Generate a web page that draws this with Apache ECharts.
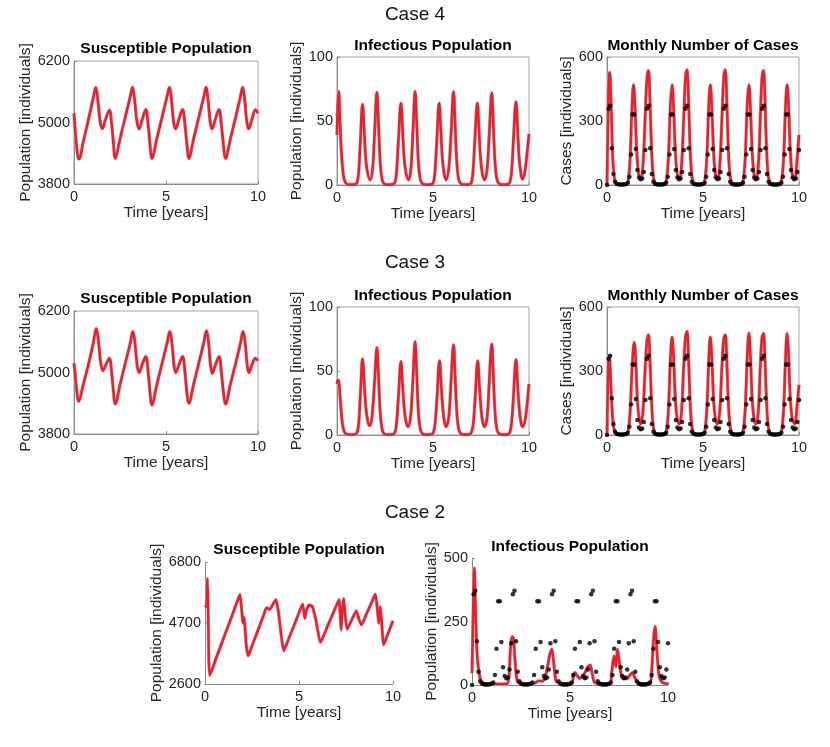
<!DOCTYPE html>
<html><head><meta charset="utf-8">
<script src="https://cdn.jsdelivr.net/npm/echarts@6.0.0/dist/echarts.min.js"></script>
<style>html,body{margin:0;padding:0;background:#fff}#c{width:830px;height:747px}</style>
</head><body><div id="c"></div>
<script>
// ---------- DATA ----------
const caseLabels = ['Case 4', 'Case 3', 'Case 2'];
const titleS = 'Susceptible Population';
const titleI = 'Infectious Population';
const titleC = 'Monthly Number of Cases';
const xTicks = [0, 5, 10];
const yTicksS43 = [3800, 5000, 6200];
const yTicksI43 = [0, 50, 100];
const yTicksC43 = [0, 300, 600];
const yTicksS2 = [2600, 4700, 6800];
const yTicksI2 = [0, 250, 500];

// monthly reported cases (month 0..120)
const monthlyCases = [0,
 357,371,172,52,15,6,3,2,2,2,3,5,10,39,143,330,330,169,70,35,27,30,61,164,
 357,371,172,52,15,6,3,2,2,2,3,5,10,39,143,330,330,169,70,35,27,30,61,164,
 357,371,172,52,15,6,3,2,2,2,3,5,10,39,143,330,330,169,70,35,27,30,61,164,
 357,371,172,52,15,6,3,2,2,2,3,5,10,39,143,330,330,169,70,35,27,30,61,164,
 357,371,172,52,15,6,3,2,2,2,3,5,10,39,143,330,330,169,70,35,27,30,61,164];

const c4S = [[0,5180],[0.1,4700],[0.2,4360],[0.27,4290],[0.5,4620],[0.8,5080],[1.05,5490],[1.18,5680],[1.3,5420],[1.42,5020],[1.54,4880],[1.7,5050],[1.92,5240],[2.05,4950],[2.15,4570],[2.24,4300],[2.5,4680],[2.8,5125],[3.05,5495],[3.18,5685],[3.3,5420],[3.42,5020],[3.54,4875],[3.7,5050],[3.9,5255],[4.03,4950],[4.13,4570],[4.23,4300],[4.5,4680],[4.8,5125],[5.05,5495],[5.19,5685],[5.3,5430],[5.41,5020],[5.52,4875],[5.7,5060],[5.9,5255],[6.03,4950],[6.14,4570],[6.24,4300],[6.5,4680],[6.8,5125],[7.05,5495],[7.18,5685],[7.29,5430],[7.4,5020],[7.5,4875],[7.68,5060],[7.88,5255],[8.01,4950],[8.12,4570],[8.23,4300],[8.5,4680],[8.8,5125],[9.04,5495],[9.17,5685],[9.28,5430],[9.39,5020],[9.49,4875],[9.67,5060],[9.86,5250],[10,5180]];
const c4I = [[0,39],[0.04,62],[0.09,73],[0.15,52],[0.22,28],[0.3,12],[0.38,4],[0.5,1],[0.7,0.3],[0.95,0.5],[1.05,2],[1.13,10],[1.22,35],[1.33,63],[1.42,42],[1.5,20],[1.6,9],[1.73,4],[1.85,12],[1.95,38],[2.08,72.5],[2.16,48],[2.25,18],[2.34,5],[2.45,1],[2.65,0.3],[2.9,0.5],[3.02,2],[3.1,10],[3.2,35],[3.33,64],[3.42,42],[3.5,20],[3.6,9],[3.73,4],[3.85,13],[3.95,40],[4.07,73],[4.15,48],[4.24,18],[4.33,5],[4.45,1],[4.65,0.3],[4.9,0.5],[5.02,2],[5.1,10],[5.2,35],[5.32,64],[5.41,42],[5.49,20],[5.58,9],[5.68,4],[5.82,13],[5.94,40],[6.07,73],[6.15,48],[6.24,18],[6.33,5],[6.45,1],[6.65,0.3],[6.9,0.5],[7.0,2],[7.08,10],[7.18,35],[7.31,64],[7.4,42],[7.48,20],[7.57,9],[7.69,4],[7.82,13],[7.93,40],[8.06,72],[8.14,48],[8.23,18],[8.32,5],[8.44,1],[8.65,0.3],[8.9,0.5],[9.0,2],[9.09,10],[9.19,35],[9.32,65],[9.41,42],[9.49,20],[9.57,10],[9.65,4.5],[9.78,10],[9.9,25],[10,40]];
const c4C = [[0,0],[0.05,300],[0.1,500],[0.14,528],[0.2,420],[0.26,230],[0.33,80],[0.42,18],[0.55,3],[0.8,0.5],[1.0,2],[1.1,20],[1.2,120],[1.3,360],[1.38,470],[1.46,360],[1.55,160],[1.65,50],[1.76,28],[1.87,90],[1.98,300],[2.08,500],[2.16,537],[2.23,420],[2.3,220],[2.38,70],[2.48,12],[2.6,2],[2.85,0.5],[3.0,3],[3.1,25],[3.2,130],[3.3,370],[3.39,470],[3.47,360],[3.56,160],[3.66,50],[3.77,28],[3.88,90],[3.99,300],[4.09,505],[4.17,540],[4.24,420],[4.31,220],[4.39,70],[4.49,12],[4.62,2],[4.85,0.5],[5.0,3],[5.1,25],[5.2,130],[5.3,370],[5.38,470],[5.46,360],[5.55,160],[5.65,50],[5.76,28],[5.87,90],[5.98,300],[6.08,505],[6.16,540],[6.23,420],[6.3,220],[6.38,70],[6.48,12],[6.6,2],[6.85,0.5],[7.0,3],[7.1,25],[7.2,130],[7.3,370],[7.39,470],[7.47,360],[7.56,160],[7.66,50],[7.77,28],[7.88,90],[7.98,300],[8.07,500],[8.15,537],[8.22,420],[8.29,220],[8.37,70],[8.47,12],[8.6,2],[8.85,0.5],[9.0,3],[9.1,25],[9.2,130],[9.3,370],[9.38,470],[9.46,360],[9.55,160],[9.65,50],[9.78,28],[9.88,100],[10,235]];

const c3S = [[0,5180],[0.08,4900],[0.15,4640],[0.25,4440],[0.5,4760],[0.8,5180],[1.05,5580],[1.21,5860],[1.33,5600],[1.45,5200],[1.57,5036],[1.73,5150],[1.92,5276],[2.05,4980],[2.15,4600],[2.24,4385],[2.5,4760],[2.8,5200],[3.05,5560],[3.2,5797],[3.32,5550],[3.43,5150],[3.54,4997],[3.7,5150],[3.9,5309],[4.03,5000],[4.13,4620],[4.23,4366],[4.5,4760],[4.8,5200],[5.05,5560],[5.21,5797],[5.33,5550],[5.43,5150],[5.53,4997],[5.7,5150],[5.9,5309],[6.03,5000],[6.13,4620],[6.24,4400],[6.5,4770],[6.8,5210],[7.05,5580],[7.2,5815],[7.32,5560],[7.42,5150],[7.52,4985],[7.68,5140],[7.88,5309],[8.01,5000],[8.12,4620],[8.23,4385],[8.5,4770],[8.8,5200],[9.04,5560],[9.19,5797],[9.31,5550],[9.41,5150],[9.51,4997],[9.67,5150],[9.86,5276],[10,5230]];
const c3I = [[0,40],[0.05,43],[0.09,42],[0.15,32],[0.22,18],[0.3,7],[0.4,2],[0.52,0.5],[0.75,0.2],[0.95,0.5],[1.05,2],[1.13,9],[1.22,32],[1.33,59.5],[1.42,40],[1.5,22],[1.6,11],[1.7,7.3],[1.82,14],[1.95,40],[2.08,68.4],[2.16,46],[2.25,18],[2.34,5],[2.45,1],[2.65,0.3],[2.9,0.5],[3.02,2],[3.1,9],[3.2,30],[3.33,57.4],[3.42,38],[3.5,21],[3.6,10],[3.71,6.5],[3.83,14],[3.95,42],[4.07,73],[4.15,48],[4.24,18],[4.33,5],[4.45,1],[4.65,0.3],[4.9,0.5],[5.02,2],[5.11,9],[5.21,30],[5.34,58],[5.43,38],[5.51,21],[5.6,10],[5.68,6.5],[5.82,14],[5.94,42],[6.07,70.5],[6.15,47],[6.24,18],[6.33,5],[6.45,1],[6.65,0.3],[6.9,0.5],[7.0,2],[7.1,9],[7.2,30],[7.33,58],[7.42,38],[7.5,21],[7.59,10],[7.68,6.5],[7.82,14],[7.93,42],[8.06,71],[8.14,47],[8.23,18],[8.32,5],[8.44,1],[8.65,0.3],[8.9,0.5],[9.0,2],[9.09,9],[9.19,30],[9.32,59],[9.41,38],[9.49,21],[9.58,10],[9.67,6.5],[9.8,12],[9.9,24],[10,40]];
const c3C = [[0,0],[0.04,220],[0.08,350],[0.12,370],[0.17,300],[0.24,160],[0.32,55],[0.42,12],[0.55,2],[0.8,0.5],[1.0,2],[1.1,20],[1.2,100],[1.31,320],[1.42,434],[1.5,340],[1.58,170],[1.67,80],[1.76,52],[1.87,110],[1.98,300],[2.08,440],[2.16,470],[2.23,370],[2.3,200],[2.38,65],[2.48,12],[2.6,2],[2.85,0.5],[3.0,3],[3.1,22],[3.2,120],[3.3,350],[3.39,459],[3.47,360],[3.56,170],[3.66,75],[3.77,52],[3.88,110],[3.99,310],[4.09,460],[4.17,485],[4.24,380],[4.31,200],[4.39,65],[4.49,12],[4.62,2],[4.85,0.5],[5.0,3],[5.1,22],[5.2,120],[5.3,350],[5.38,459],[5.46,360],[5.55,170],[5.65,75],[5.76,52],[5.87,110],[5.98,310],[6.08,450],[6.16,470],[6.23,370],[6.3,200],[6.38,65],[6.48,12],[6.6,2],[6.85,0.5],[7.0,3],[7.1,22],[7.2,125],[7.3,360],[7.39,478],[7.47,370],[7.56,170],[7.66,75],[7.77,52],[7.88,110],[7.98,310],[8.07,455],[8.15,475],[8.22,370],[8.29,200],[8.37,65],[8.47,12],[8.6,2],[8.85,0.5],[9.0,3],[9.1,22],[9.2,125],[9.3,360],[9.38,475],[9.46,370],[9.55,170],[9.65,75],[9.78,52],[9.88,120],[10,235]];

const c2S = [[0,5240],[0.03,5230],[0.08,5300],[0.13,6230],[0.16,5400],[0.2,3500],[0.25,2898],[0.6,3503],[1.0,4195],[1.4,4887],[1.75,5500],[1.86,5682],[1.93,5300],[2.0,4800],[2.04,4689],[2.08,4900],[2.12,4600],[2.2,3900],[2.3,3571],[2.5,3912],[2.8,4424],[3.1,4935],[3.27,5225],[3.45,5168],[3.6,5330],[3.77,5511],[3.9,5100],[4.05,4300],[4.19,3742],[4.5,4240],[4.9,4884],[5.19,5351],[5.31,4860],[5.4,5150],[5.54,5317],[5.72,5260],[5.9,4800],[6.14,4027],[6.5,4567],[6.9,5166],[7.13,5511],[7.24,4461],[7.31,5200],[7.38,5545],[7.45,5000],[7.56,4484],[7.8,4800],[8.05,5123],[8.18,4850],[8.32,4632],[8.6,5030],[8.9,5460],[9.06,5693],[9.15,5300],[9.24,4689],[9.33,5260],[9.42,4500],[9.5,3947],[9.75,4363],[10,4780]];
const c2I = [[0,46],[0.05,250],[0.12,460],[0.18,300],[0.26,120],[0.34,59],[0.42,25],[0.5,13],[0.7,5],[1.2,4],[1.78,5],[1.88,30],[1.97,150],[2.05,191],[2.12,180],[2.2,90],[2.32,13],[2.5,6],[3.0,5],[3.22,8],[3.39,16],[3.55,15],[3.7,25],[3.85,70],[3.97,120],[4.07,141],[4.15,100],[4.25,30],[4.32,13],[4.6,6],[5.08,6],[5.17,35],[5.25,49],[5.38,35],[5.5,26],[5.7,40],[5.9,70],[6.02,79],[6.12,50],[6.27,9],[6.6,5],[7.03,6],[7.13,50],[7.25,114],[7.34,72],[7.42,141],[7.52,90],[7.6,45],[7.71,26],[7.9,25],[8.05,38],[8.19,49],[8.3,30],[8.47,9],[8.8,5],[9.07,6],[9.17,60],[9.27,190],[9.34,230],[9.42,150],[9.52,50],[9.61,20],[9.75,8],[10,4]];

// ---------- LAYOUT / BUILD ----------
const FONT = '"Liberation Sans", Arial, Helvetica, sans-serif';
const panels = [
  {g:[74,61,184,123], yt:yTicksS43, yn:'Population [individuals]', gap:33, line:c4S, dots:false, title:titleS, ty:49, box:true, sm:0.4},
  {g:[337,57,192,128], yt:yTicksI43, yn:'Population [individuals]', gap:26, line:c4I, dots:false, title:titleI, ty:46, box:true, sm:0.4},
  {g:[607,57,192,128], yt:yTicksC43, yn:'Cases [individuals]', gap:30, line:c4C, dots:true, title:titleC, ty:46, box:true, sm:0.4},
  {g:[74,311,184,123], yt:yTicksS43, yn:'Population [individuals]', gap:33, line:c3S, dots:false, title:titleS, ty:299, box:true, sm:0.4},
  {g:[337,307,192,128], yt:yTicksI43, yn:'Population [individuals]', gap:26, line:c3I, dots:false, title:titleI, ty:296, box:true, sm:0.4},
  {g:[607,307,192,128], yt:yTicksC43, yn:'Cases [individuals]', gap:30, line:c3C, dots:true, title:titleC, ty:296, box:true, sm:0.4},
  {g:[205,562,188,122], yt:yTicksS2, yn:'Population [individuals]', gap:31, line:c2S, dots:false, title:titleS, ty:550, box:false, sm:0.15},
  {g:[472,558,196,127], yt:yTicksI2, yn:'Population [individuals]', gap:23, line:c2I, dots:true, title:titleI, ty:547, box:false, sm:0.35}
];
const dotData = monthlyCases.map((v, m) => [m / 12, v]);

const grid = [], xAxis = [], yAxis = [], series = [], graphic = [];
const caseY = [15, 263, 513];
caseLabels.forEach((t, i) => graphic.push({type:'text', x:415, y:caseY[i],
  style:{text:t, font:'19px ' + FONT, fill:'#111', textAlign:'center', textVerticalAlign:'middle'}}));

const plain = v => String(v);
panels.forEach((p, i) => {
  const [l, t, w, h] = p.g;
  grid.push({left:l, top:t, width:w, height:h, show:p.box, borderColor:'#a0a0a0', borderWidth:1, backgroundColor:'transparent'});
  graphic.push({type:'text', x:l + w / 2, y:p.ty,
    style:{text:p.title, font:'bold 15.5px ' + FONT, fill:'#000', textAlign:'center', textVerticalAlign:'middle'}});
  const axLine = {show:true, lineStyle:{color:'#8a8a8a', width:1}};
  xAxis.push({type:'value', gridIndex:i, min:0, max:10, interval:5,
    axisLine:axLine, splitLine:{show:false},
    axisTick:{inside:true, length:3, customValues:xTicks, lineStyle:{color:'#8a8a8a'}},
    axisLabel:{customValues:xTicks, formatter:plain, fontSize:14.5, fontFamily:FONT, color:'#262626', margin:5},
    name:'Time [years]', nameLocation:'middle', nameGap:21,
    nameTextStyle:{fontSize:15.5, fontFamily:FONT, color:'#262626'}});
  yAxis.push({type:'value', gridIndex:i, min:p.yt[0], max:p.yt[2],
    axisLine:axLine, splitLine:{show:false},
    axisTick:{inside:true, length:3, customValues:p.yt, lineStyle:{color:'#8a8a8a'}},
    axisLabel:{customValues:p.yt, formatter:plain, fontSize:14.5, fontFamily:FONT, color:'#262626', margin:4},
    name:p.yn, nameLocation:'middle', nameGap:p.gap,
    nameTextStyle:{fontSize:15.5, fontFamily:FONT, color:'#262626'}});
  series.push({type:'line', xAxisIndex:i, yAxisIndex:i, data:p.line, smooth:p.sm, showSymbol:false,
    lineStyle:{width:3.6, color:'rgba(185,185,185,0.8)'}, z:1, silent:true});
  series.push({type:'line', xAxisIndex:i, yAxisIndex:i, data:p.line, smooth:p.sm, showSymbol:false,
    lineStyle:{width:2.6, color:'#ec1f2d'}, z:2, silent:true});
  if (p.dots) series.push({type:'scatter', xAxisIndex:i, yAxisIndex:i, data:dotData,
    symbolSize:4.5, itemStyle:{color:'#000'}, z:3, silent:true});
});

const chart = echarts.init(document.getElementById('c'), null, {renderer:'canvas'});
chart.setOption({animation:false, backgroundColor:'#fff', grid, xAxis, yAxis, series, graphic});
</script></body></html>
